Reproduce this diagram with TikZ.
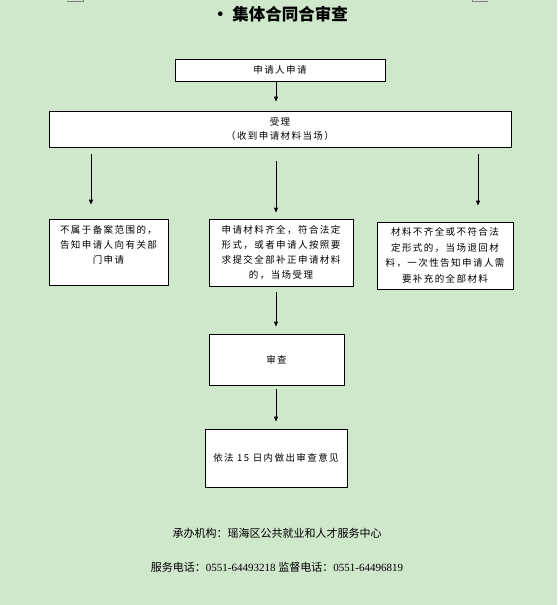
\documentclass[tikz,border=0pt]{standalone}
\usepackage{fontspec}
\setmainfont{Liberation Serif}
\newfontfamily\cjk[LetterSpace=15]{Noto Sans CJK SC}
\newfontfamily\cjkt{Noto Sans CJK SC}
\usetikzlibrary{arrows.meta}
\definecolor{bgreen}{RGB}{207,231,203}

\begin{document}
\begin{tikzpicture}[x=1pt,y=-1pt,
  box/.style={draw,fill=white,line width=0.8pt,inner sep=0pt,align=center,font=\cjk\fontsize{9.5}{14.8}\selectfont},
  arr/.style={-{Triangle[width=4pt,length=5pt]},line width=0.8pt}]
  \fill[bgreen] (0,0) rectangle (557,605);
  \useasboundingbox (0,0) rectangle (557,605);
  \draw[gray,line width=0.6pt] (67,1) -- (83,1) -- (83,0) (472,0) -- (472,1) -- (488,1);
  \node[font=\cjkt\bfseries\fontsize{16.5}{18}\selectfont] (title) at (280,14) {· 集体合同合审查};
  % boxes
  \node[box,minimum width=210pt,minimum height=22pt] (apply) at (280,70) {申请人申请};
  \node[box,minimum width=462pt,minimum height=36pt] (accept) at (280,129) {受理\\（收到申请材料当场）};
  \node[box,minimum width=119pt,minimum height=66pt] (reject) at (108.5,252) {不属于备案范围的，\\告知申请人向有关部\\门申请\\\mbox{}};
  \node[box,minimum width=144pt,minimum height=67pt] (complete) at (281,252.5) {申请材料齐全，符合法定\\形式，或者申请人按照要\\求提交全部补正申请材料\\的，当场受理};
  \node[box,minimum width=136pt,minimum height=67pt,font=\cjk\fontsize{9.5}{15.5}\selectfont] (supplement) at (445,255.5) {材料不齐全或不符合法\\定形式的，当场退回材\\料，一次性告知申请人需\\要补充的全部材料};
  \node[box,minimum width=135pt,minimum height=51pt] (review) at (276.5,359.5) {审查};
  \node[box,minimum width=142pt,minimum height=58pt] (opinion) at (276,458) {依法 15 日内做出审查意见};
  % arrows
  \coordinate (spine) at (276,0);
  \coordinate (lft) at (91,0);
  \coordinate (rgt) at (478,0);
  \draw[arr,shorten >=9pt] (apply.south -| spine) -- (accept.north -| spine);
  \draw[arr,shorten <=7pt,shorten >=14pt] (accept.south -| lft) -- (reject.north -| lft);
  \draw[arr,shorten <=14pt,shorten >=6pt] (accept.south -| spine) -- (complete.north -| spine);
  \draw[arr,shorten <=7pt,shorten >=16pt] (accept.south -| rgt) -- (supplement.north -| rgt);
  \draw[arr,shorten <=6pt,shorten >=7pt] (complete.south -| spine) -- (review.north -| spine);
  \draw[arr,shorten <=4pt,shorten >=7pt] (review.south -| spine) -- (opinion.north -| spine);
  % footer
  \node[font=\cjkt\fontsize{11}{13}\selectfont] (office) at (277,533) {承办机构：瑶海区公共就业和人才服务中心};
  \node[font=\fontsize{11}{13}\selectfont] (phone) at (277,567) {{\cjkt 服务电话：}0551-64493218 {\cjkt 监督电话：}0551-64496819};
\end{tikzpicture}
\end{document}
